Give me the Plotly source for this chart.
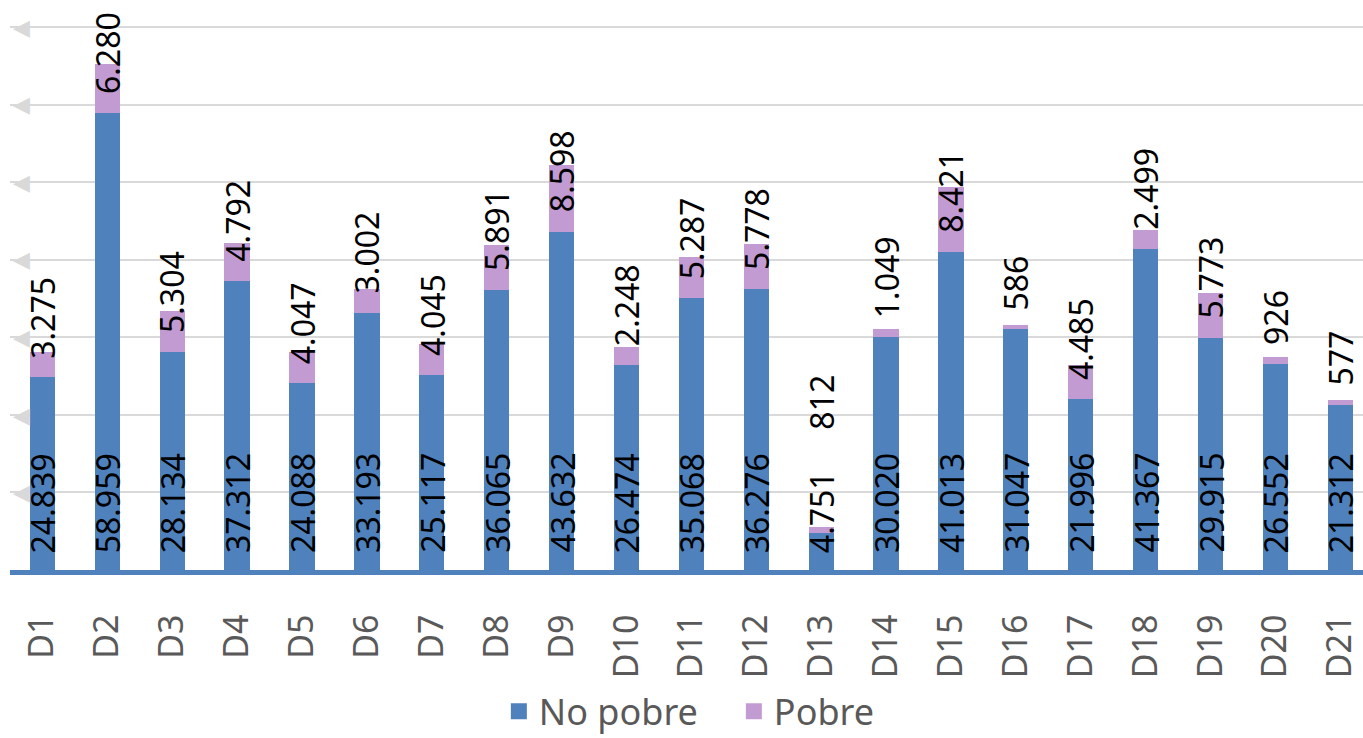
import plotly.graph_objects as go

# 지역별 빈곤/비빈곤 인구 (세로 누적 막대)
CATEGORIES = [f"D{i}" for i in range(1, 22)]
NO_POBRE = [24839, 58959, 28134, 37312, 24088, 33193, 25117, 36065, 43632, 26474, 35068,
            36276, 4751, 30020, 41013, 31047, 21996, 41367, 29915, 26552, 21312]
POBRE = [3275, 6280, 5304, 4792, 4047, 3002, 4045, 5891, 8598, 2248, 5287,
         5778, 812, 1049, 8421, 586, 4485, 2499, 5773, 926, 577]
Y_TICKS = [10000, 20000, 30000, 40000, 50000, 60000, 70000]
Y_TICK_TEXT = ["◀"] * len(Y_TICKS)

BLUE = "#4F81BD"
LILAC = "#C39BD3"
FONT = "Noto Sans"

W, H = 1363, 738
M_T, M_B, M_L, M_R = 10, 168, 10, 0
Y_TOP = 72200
PPU = (H - M_T - M_B) / Y_TOP  # 값 1당 픽셀


def fmt(v):
    # 스페인어 천 단위 구분자(.)
    return f"{v:,}".replace(",", ".")


fig = go.Figure()
fig.add_trace(go.Bar(x=CATEGORIES, y=NO_POBRE, name="No pobre", marker_color=BLUE,
                     marker_line_width=0, showlegend=False))
fig.add_trace(go.Bar(x=CATEGORIES, y=POBRE, name="Pobre", marker_color=LILAC,
                     marker_line_width=0, showlegend=False))

# 범례용 (큰 사각형 마커)
for name, color in [("No pobre", BLUE), ("Pobre", LILAC)]:
    fig.add_trace(go.Scatter(x=[None], y=[None], mode="markers", name=name,
                             marker=dict(symbol="square", size=16, color=color)))

# 데이터 레이블: 막대 아래쪽부터 세로로
for cat, a, b in zip(CATEGORIES, NO_POBRE, POBRE):
    fig.add_annotation(x=cat, y=0, text=fmt(a), textangle=-90, showarrow=False,
                       yanchor="bottom", yshift=15, font=dict(family=FONT, size=32, color="black"))
    # 아래 레이블과 겹치면 위로 밀어냄
    label_top = 15 + 19 * len(fmt(a)) + 28
    shift = max(17, label_top - a * PPU)
    fig.add_annotation(x=cat, y=a, text=fmt(b), textangle=-90, showarrow=False,
                       yanchor="bottom", yshift=shift, font=dict(family=FONT, size=32, color="black"))

fig.update_layout(
    width=W, height=H,
    barmode="stack", bargap=0.61,
    margin=dict(l=M_L, r=M_R, t=M_T, b=M_B),
    paper_bgcolor="white", plot_bgcolor="white",
    font=dict(family=FONT, color="#595959"),
    legend=dict(orientation="h", x=0.535, xanchor="center", yref="container", y=0.036,
                yanchor="middle", traceorder="normal", entrywidth=190,
                font=dict(size=36, color="#595959"), itemsizing="trace"),
    xaxis=dict(range=[-0.5, 20.35], tickangle=-90, tickfont=dict(size=34, color="#595959"),
               showline=True, linecolor=BLUE, linewidth=5, ticks="", ticklabelstandoff=26,
               showgrid=False),
    yaxis=dict(range=[0, Y_TOP], tickvals=Y_TICKS, ticktext=Y_TICK_TEXT,
               ticklabelposition="inside", tickfont=dict(size=22, color="#d9d9d9"),
               ticklabelstandoff=0,
               showgrid=True, gridcolor="#d9d9d9", gridwidth=2, zeroline=False,
               showline=False, ticks=""),
)

fig.write_html("out.html", config={"displayModeBar": False},
               post_script="document.body.style.margin='0px';")
